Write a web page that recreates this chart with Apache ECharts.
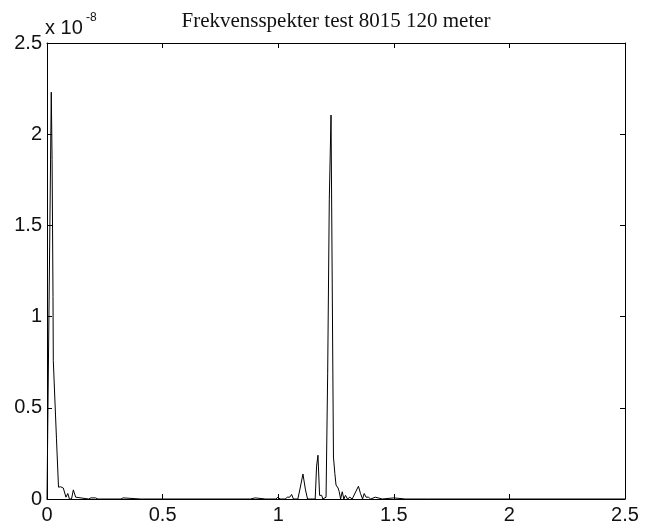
<!DOCTYPE html>
<html>
<head>
<meta charset="utf-8">
<script src="https://cdn.jsdelivr.net/npm/echarts@6/dist/echarts.min.js"></script>
<style>
  html, body { margin: 0; padding: 0; background: #fff; }
  #chart { width: 645px; height: 530px; }
</style>
</head>
<body>
<div id="chart"></div>
<script>
// Frequency spectrum, test 8015 at 120 m.
// Amplitudes are given in units of 1e-8 (axis multiplier shown at top left).
const chartTitle = 'Frekvensspekter test 8015 120 meter';
const ampExponent = '-8';

// Frequency axis (Hz)
const freq = [
  0.000, 0.008, 0.0185, 0.022, 0.026, 0.0272, 0.041, 0.0497, 0.059, 0.0705,
  0.082, 0.090, 0.097, 0.106, 0.114, 0.124, 0.131, 0.180, 0.190, 0.210,
  0.220, 0.225, 0.230, 0.320, 0.329, 0.335, 0.405, 0.411, 0.418, 0.880,
  0.887, 0.900, 0.905, 0.945, 0.952, 0.958, 0.990, 0.999, 1.008, 1.030,
  1.040, 1.050, 1.058, 1.066, 1.085, 1.095, 1.107, 1.118, 1.127, 1.150,
  1.160, 1.166, 1.172, 1.179, 1.188, 1.193, 1.200, 1.207, 1.214, 1.221,
  1.2285, 1.239, 1.245, 1.250, 1.255, 1.259, 1.264, 1.270, 1.277, 1.284,
  1.291, 1.300, 1.310, 1.320, 1.347, 1.356, 1.365, 1.372, 1.380, 1.390,
  1.400, 1.420, 1.450, 1.500, 1.550, 1.600, 1.650, 2.000, 2.500
];

// Spectral amplitude (x 1e-8)
const amp = [
  0.00, 0.00, 2.23, 1.86, 1.11, 0.76, 0.33, 0.065, 0.067, 0.06,
  0.01, 0.03, 0.00, 0.00, 0.05, 0.01, 0.00, 0.00, 0.006, 0.006,
  0.00, 0.006, 0.00, 0.00, 0.006, 0.00, 0.00, 0.006, 0.00, 0.00,
  0.006, 0.006, 0.00, 0.00, 0.006, 0.00, 0.00, 0.01, 0.00, 0.00,
  0.01, 0.01, 0.025, 0.00, 0.00, 0.06, 0.137, 0.05, 0.00, 0.00,
  0.00, 0.18, 0.24, 0.02, 0.02, 0.00, 0.00, 0.01, 0.69, 1.64,
  2.105, 0.23, 0.14, 0.077, 0.085, 0.06, 0.04, 0.00, 0.04, 0.00,
  0.02, 0.00, 0.01, 0.00, 0.07, 0.03, 0.00, 0.03, 0.01, 0.01,
  0.00, 0.01, 0.00, 0.006, 0.00, 0.00, 0.00, 0.00, 0.00
];

// Tick labels on both axes
const xTicks = ['0', '0.5', '1', '1.5', '2', '2.5'];
const yTicks = ['0', '0.5', '1', '1.5', '2', '2.5'];

const points = freq.map((f, i) => [f, amp[i]]);
const labelFont = 'Liberation Sans, Arial, sans-serif';
const ink = '#000';

function tickLabel(list) {
  return function (v) {
    const idx = Math.round(v / 0.5);
    return list[idx] !== undefined ? list[idx] : '';
  };
}

const baseAxis = {
  min: 0, max: 2.5, interval: 0.5,
  axisLine: { show: true, onZero: false, lineStyle: { color: ink, width: 1 } },
  axisTick: { show: true, inside: true, length: 5, lineStyle: { color: ink, width: 1 } },
  splitLine: { show: false }
};

const chart = echarts.init(document.getElementById('chart'), null, { renderer: 'canvas' });
chart.setOption({
  animation: false,
  backgroundColor: '#fff',
  grid: { left: 47, right: 20, top: 43, bottom: 31, containLabel: false },
  xAxis: [
    Object.assign({}, baseAxis, {
      type: 'value', position: 'bottom',
      axisLabel: { show: true, margin: 6, color: '#111', fontSize: 20, fontFamily: labelFont,
                   formatter: tickLabel(xTicks) }
    }),
    Object.assign({}, baseAxis, {
      type: 'value', position: 'top', axisLabel: { show: false }
    })
  ],
  yAxis: [
    Object.assign({}, baseAxis, {
      type: 'value', position: 'left',
      axisLabel: { show: true, margin: 5, color: '#111', fontSize: 20, fontFamily: labelFont,
                   formatter: tickLabel(yTicks) }
    }),
    Object.assign({}, baseAxis, {
      type: 'value', position: 'right', axisLabel: { show: false }
    })
  ],
  series: [{
    type: 'line',
    data: points,
    xAxisIndex: 0,
    yAxisIndex: 0,
    showSymbol: false,
    symbol: 'none',
    lineStyle: { color: ink, width: 1 },
    silent: true
  }],
  graphic: [
    {
      type: 'text', x: 336, y: 21,
      style: { text: chartTitle, align: 'center', verticalAlign: 'middle',
               font: '21px "Liberation Serif", "Times New Roman", serif', fill: '#111' }
    },
    {
      type: 'text', x: 45, y: 28,
      style: { text: 'x 10', align: 'left', verticalAlign: 'middle',
               font: '20px ' + labelFont, fill: '#111' }
    },
    {
      type: 'text', x: 86, y: 18,
      style: { text: ampExponent, align: 'left', verticalAlign: 'middle',
               font: '12px ' + labelFont, fill: '#111' }
    }
  ]
});
</script>
</body>
</html>
